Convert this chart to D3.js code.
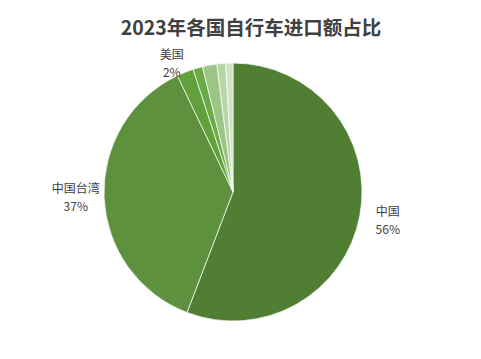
<!DOCTYPE html>
<html>
<head>
<meta charset="utf-8">
<script src="https://d3js.org/d3.v7.min.js"></script>
<style>
  body { margin: 0; background: #fff; }
  text { font-family: "Noto Sans CJK SC", "Noto Sans", sans-serif; fill: #404040; }
</style>
</head>
<body>
<svg id="chart" width="481" height="359"></svg>
<script>
  // data
  var names = ["中国", "中国台湾", "美国", "其他1", "其他2", "其他3", "其他4"];
  var shares = [55.8, 37.1, 2.1, 1.2, 1.8, 1.1, 0.9];
  var colors = ["#507e32", "#5e913d", "#62a03b", "#6aab46", "#9cc585", "#b7d5a7", "#d0e3c6"];
  var labelled = ["中国", "中国台湾", "美国"];

  var width = 481, height = 359;
  var cx = 233, cy = 192, r = 129;

  var svg = d3.select("#chart");

  svg.append("text")
    .attr("x", 251)
    .attr("y", 35)
    .attr("text-anchor", "middle")
    .style("font-size", "19.5px")
    .style("font-weight", "bold")
    .text("2023年各国自行车进口额占比");

  var rows = names.map(function(n, i) { return { name: n, value: shares[i], color: colors[i] }; });

  var pie = d3.pie().sort(null).value(function(d) { return d.value; });
  var arc = d3.arc().innerRadius(0).outerRadius(r);
  var arcs = pie(rows);

  var g = svg.append("g").attr("transform", "translate(" + cx + "," + cy + ")");

  g.selectAll("path")
    .data(arcs)
    .enter()
    .append("path")
    .attr("d", arc)
    .attr("fill", function(d) { return d.data.color; })
    .attr("stroke", "#fff")
    .attr("stroke-width", 0.7);

  // label position: big slices at mid angle, the small one at its start edge
  function labelPos(d) {
    var a, rr;
    if (d.data.name == "美国") {
      a = d.startAngle; rr = r * 1.1;
    } else {
      a = (d.startAngle + d.endAngle) / 2; rr = r * 1.22;
    }
    return [rr * Math.sin(a), -rr * Math.cos(a)];
  }

  var lblData = arcs.filter(function(d) { return labelled.indexOf(d.data.name) >= 0; });

  g.selectAll(".lblName")
    .data(lblData)
    .enter()
    .append("text")
    .attr("class", "lblName")
    .attr("text-anchor", "middle")
    .style("font-size", "12px")
    .attr("x", function(d) { return labelPos(d)[0]; })
    .attr("y", function(d) { return labelPos(d)[1] - 5; })
    .text(function(d) { return d.data.name; });

  g.selectAll(".lblPct")
    .data(lblData)
    .enter()
    .append("text")
    .attr("class", "lblPct")
    .attr("text-anchor", "middle")
    .style("font-size", "12px")
    .attr("x", function(d) { return labelPos(d)[0]; })
    .attr("y", function(d) { return labelPos(d)[1] + 13; })
    .text(function(d) { return Math.round(d.data.value) + "%"; });
</script>
</body>
</html>
